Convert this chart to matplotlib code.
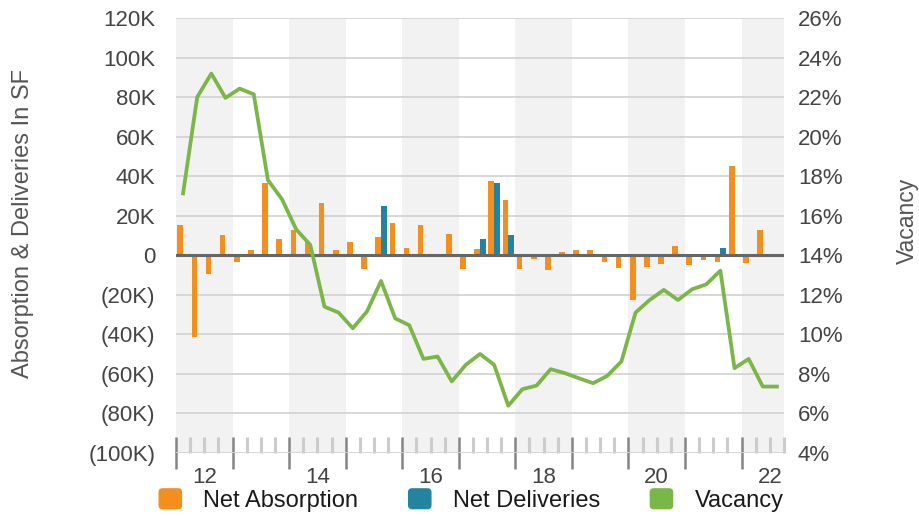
import matplotlib
matplotlib.use("Agg")
import matplotlib.pyplot as plt
import numpy as np
from matplotlib.ticker import FixedLocator, FuncFormatter
from matplotlib.patches import Patch, FancyBboxPatch
from matplotlib.legend_handler import HandlerPatch

plt.rcParams['font.family'] = ['Liberation Sans', 'DejaVu Sans']

# quarters 2012 Q1 .. 2022 Q3
years = [2012, 2013, 2014, 2015, 2016, 2017, 2018, 2019, 2020, 2021, 2022]
year_labels = ['12', '14', '16', '18', '20', '22']

# thousands of SF
net_absorption = [15.2, -41.2, -9.6, 10.1,
                  -3.4, 2.5, 36.4, 8.1,
                  12.6, 6.7, 26.4, 2.5,
                  6.6, -6.9, 9.1, 16.2,
                  3.5, 15.2, -1.0, 10.6,
                  -6.9, 3.0, 37.4, 27.8,
                  -6.9, -1.9, -7.4, 1.5,
                  2.5, 2.5, -3.4, -6.4,
                  -22.6, -5.9, -4.4, 4.5,
                  -4.9, -2.4, -3.4, 45.0,
                  -3.9, 12.6, 0.0]
net_deliveries = [0, 0, 0, 0,
                  0, 0, 0, 0,
                  0, 0, 0, 0,
                  0, 0, 24.7, 0,
                  0, 0, 0, 0,
                  0, 8.1, 36.4, 10.1,
                  0, 0, 0, 0,
                  0, 0, 0, 0,
                  0, 0, 0, 0,
                  0, 0, 3.5, 0,
                  0, 0, 0]
# percent
vacancy = [17.13, 22.0, 23.19, 21.96, 22.43, 22.14, 17.8, 16.83, 15.31, 14.52,
           11.4, 11.1, 10.31, 11.15, 12.7, 10.81, 10.46, 8.76, 8.88, 7.62,
           8.46, 9.01, 8.46, 6.39, 7.23, 7.41, 8.24, 8.04, 7.78, 7.53,
           7.9, 8.63, 11.1, 11.74, 12.25, 11.74, 12.28, 12.53, 13.22, 8.29,
           8.76, 7.36, 7.36]

ORANGE = '#F28F1F'
BLUE = '#2484A0'
GREEN = '#7AB648'
TXT = '#444444'


class RoundBox(HandlerPatch):
    # rounded square legend key
    def create_artists(self, legend, orig_handle, xdescent, ydescent,
                       width, height, fontsize, trans):
        p = FancyBboxPatch((-xdescent, -ydescent), width, height,
                           boxstyle='round,pad=0,rounding_size=3',
                           facecolor=orig_handle.get_facecolor(), lw=0,
                           transform=trans)
        return [p]


n = len(vacancy)
x = np.arange(n)

fig = plt.figure(figsize=(9.2, 5.16), dpi=100)
ax = fig.add_axes([176/920, 1-453/516, 608/920, 435/516])

# alternating year bands
for k, yr in enumerate(years):
    if k % 2 == 0:
        ax.axvspan(4*k - 0.5, 4*k + 3.5, color='#f2f2f2', lw=0, zorder=0)

ax.set_xlim(-0.5, n - 0.5)
ax.set_ylim(-100, 120)
ax.set_yticks(np.arange(-100, 121, 20))
ax.yaxis.set_major_formatter(FuncFormatter(
    lambda v, p: '0' if v == 0 else ('%dK' % v if v > 0 else '(%dK)' % -v)))
ax.grid(axis='y', color='#d4d4d4', lw=1.3, zorder=1)
ax.set_axisbelow(True)

ax.bar(x - 0.2, net_absorption, width=0.4, color=ORANGE, zorder=3)
ax.bar(x + 0.2, net_deliveries, width=0.4, color=BLUE, zorder=3)
ax.axhline(0, color='#666666', lw=2.2, zorder=4)

for s in ax.spines.values():
    s.set_visible(False)

# year / quarter ticks
major = [4*k - 0.5 for k in range(len(years))]
minor = [q - 0.5 for q in range(n + 1) if q % 4 != 0]
ax.xaxis.set_major_locator(FixedLocator(major))
ax.xaxis.set_minor_locator(FixedLocator(minor))
ax.set_xticklabels([])
ax.tick_params(axis='x', which='major', direction='inout', length=22.5, width=1.8, color='#858585')
ax.tick_params(axis='x', which='minor', direction='in', length=11.5, width=2.2, color='#cccccc')
ax.tick_params(axis='y', length=0, pad=15, labelsize=16, labelcolor=TXT)

for k in range(0, len(years), 2):
    ax.text(4*k + 1.5, -0.056, year_labels[k // 2], transform=ax.get_xaxis_transform(),
            ha='center', va='center', fontsize=16, color=TXT)

ax2 = ax.twinx()
ax2.plot(x, vacancy, color=GREEN, lw=2.7, zorder=5)
ax2.set_ylim(4, 26)
ax2.set_yticks(np.arange(4, 27, 2))
ax2.yaxis.set_major_formatter(FuncFormatter(lambda v, p: '%d%%' % v))
ax2.tick_params(axis='y', length=0, pad=10, labelsize=16, labelcolor=TXT)
for s in ax2.spines.values():
    s.set_visible(False)

fig.text(23/920, 1-223/516, 'Absorption & Deliveries In SF', rotation=90,
         ha='center', va='center', fontsize=17, color='#555555')
fig.text(907/920, 1-221/516, 'Vacancy', rotation=90,
         ha='center', va='center', fontsize=16.5, color='#555555')

handles = [Patch(color=ORANGE), Patch(color=BLUE), Patch(color=GREEN)]
fig.legend(handles, ['Net Absorption', 'Net Deliveries', 'Vacancy'],
           loc='center', bbox_to_anchor=(471/920, 1-500/516), ncol=3,
           frameon=False, fontsize=17, handlelength=1.0, handleheight=1.0,
           handletextpad=0.9, columnspacing=2.1, labelcolor='#1a1a1a',
           handler_map={Patch: RoundBox()})

fig.savefig('out.png', dpi=100)
